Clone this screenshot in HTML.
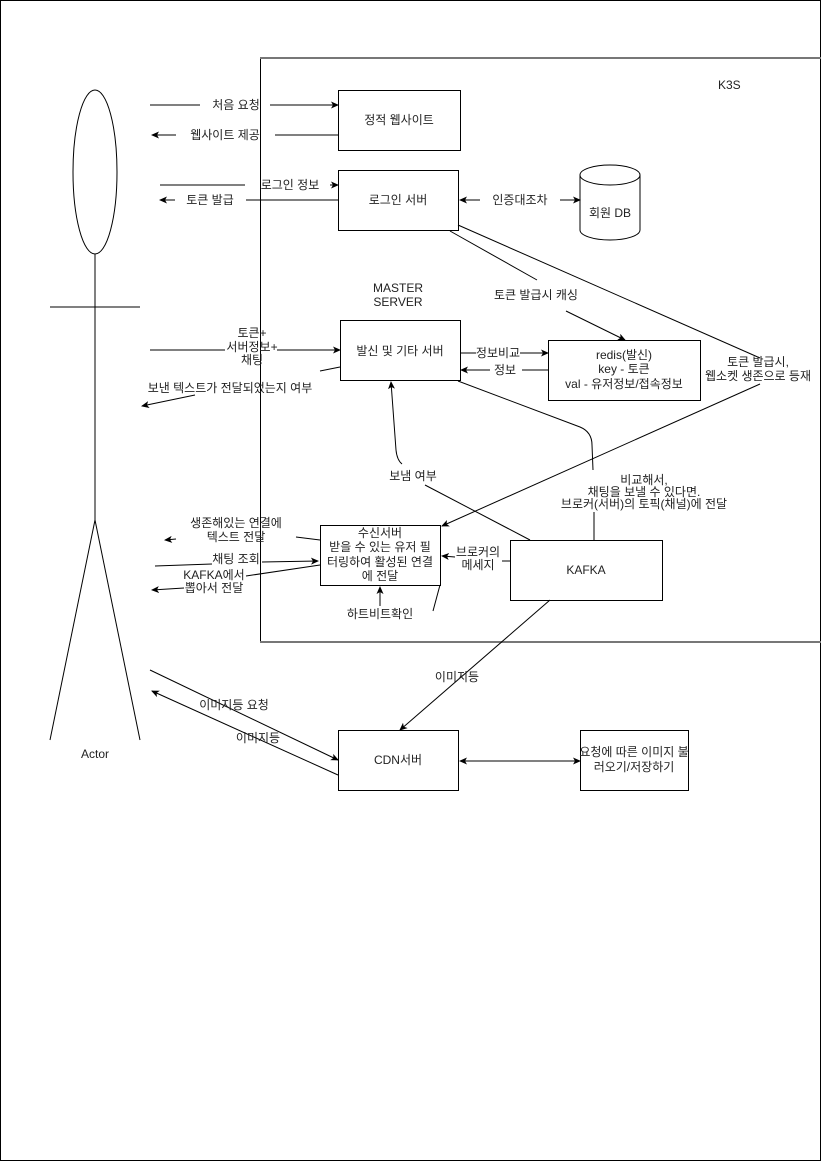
<!DOCTYPE html>
<html><head><meta charset="utf-8"><style>
html,body{margin:0;padding:0;background:#fff;}
svg{display:block;}
text{font-family:"Liberation Sans","Noto Sans CJK KR",sans-serif;font-size:12px;fill:#222;}
</style></head><body>
<svg width="821" height="1161" viewBox="0 0 821 1161" xmlns="http://www.w3.org/2000/svg">
<defs>
<marker id="a" markerWidth="8" markerHeight="8" refX="7" refY="4" orient="auto" markerUnits="userSpaceOnUse">
<path d="M0,0.5 L8,4 L0,7.5 L2,4 Z" fill="#000"/></marker>
<marker id="s" markerWidth="8" markerHeight="8" refX="1" refY="4" orient="auto" markerUnits="userSpaceOnUse">
<path d="M8,0.5 L0,4 L8,7.5 L6,4 Z" fill="#000"/></marker>
</defs>
<rect x="0.5" y="0.5" width="820" height="1160" fill="#fff" stroke="#000"/>
<line x1="260.5" y1="58" x2="260.5" y2="642" stroke="#000"/>
<line x1="260" y1="58" x2="821" y2="58" stroke="#777" stroke-width="2"/>
<line x1="260" y1="642" x2="821" y2="642" stroke="#777" stroke-width="2"/>
<text x="718" y="89">K3S</text>

<ellipse cx="95" cy="172" rx="22" ry="82" fill="#fff" stroke="#000"/>
<line x1="95" y1="254" x2="95" y2="520" stroke="#000"/>
<line x1="50" y1="307" x2="140" y2="307" stroke="#000"/>
<line x1="95" y1="520" x2="50" y2="740" stroke="#000"/>
<line x1="95" y1="520" x2="140" y2="740" stroke="#000"/>
<text x="95" y="758" text-anchor="middle">Actor</text>

<g fill="#fff" stroke="#000">
<rect x="338.5" y="90.5" width="122" height="60"/>
<rect x="338.5" y="170.5" width="120" height="60"/>
<rect x="340.5" y="320.5" width="120" height="60"/>
<rect x="548.5" y="340.5" width="152" height="60"/>
<rect x="320.5" y="525.5" width="120" height="60"/>
<rect x="510.5" y="540.5" width="152" height="60"/>
<rect x="338.5" y="730.5" width="120" height="60"/>
<rect x="580.5" y="730.5" width="108" height="60"/>
<path d="M580,175 A30,10 0 0 1 640,175 L640,230 A30,10 0 0 1 580,230 Z"/>
<path d="M580,175 A30,10 0 0 0 640,175"/>
</g>
<text x="399" y="124" text-anchor="middle">정적 웹사이트</text>
<text x="398" y="204" text-anchor="middle">로그인 서버</text>
<text x="610" y="217" text-anchor="middle">회원 DB</text>
<text x="398" y="292" text-anchor="middle">MASTER</text>
<text x="398" y="306" text-anchor="middle">SERVER</text>
<text x="400" y="355" text-anchor="middle">발신 및 기타 서버</text>
<text x="624" y="359" text-anchor="middle">redis(발신)</text>
<text x="624" y="373" text-anchor="middle">key - 토큰</text>
<text x="624" y="388" text-anchor="middle">val - 유저정보/접속정보</text>
<text x="380" y="537" text-anchor="middle">수신서버</text>
<text x="380" y="551" text-anchor="middle">받을 수 있는 유저 필</text>
<text x="380" y="566" text-anchor="middle">터링하여 활성된 연결</text>
<text x="380" y="580" text-anchor="middle">에 전달</text>
<text x="586" y="574" text-anchor="middle">KAFKA</text>
<text x="398" y="764" text-anchor="middle">CDN서버</text>
<text x="634" y="756" text-anchor="middle">요청에 따른 이미지 불</text>
<text x="634" y="771" text-anchor="middle">러오기/저장하기</text>

<g stroke="#000" fill="none">
<line x1="150" y1="105" x2="200" y2="105"/>
<line x1="270" y1="105" x2="338" y2="105" marker-end="url(#a)"/>
<line x1="338" y1="135" x2="275" y2="135"/>
<line x1="176" y1="135" x2="152" y2="135" marker-end="url(#a)"/>
<line x1="160" y1="185" x2="245" y2="185"/>
<line x1="330" y1="185" x2="338" y2="185" marker-end="url(#a)"/>
<line x1="338" y1="200" x2="246" y2="200"/>
<line x1="175" y1="200" x2="160" y2="200" marker-end="url(#a)"/>
<line x1="480" y1="200" x2="460" y2="200" marker-end="url(#a)"/>
<line x1="560" y1="200" x2="580" y2="200" marker-end="url(#a)"/>
<line x1="450" y1="231" x2="537" y2="280"/>
<line x1="566" y1="311" x2="625" y2="340" marker-end="url(#a)"/>
<line x1="458" y1="225" x2="760" y2="358"/>
<line x1="760" y1="384" x2="442" y2="526" marker-end="url(#a)"/>
<line x1="150" y1="350" x2="225" y2="350"/>
<line x1="277" y1="350" x2="340" y2="350" marker-end="url(#a)"/>
<line x1="340" y1="367" x2="320" y2="371"/>
<line x1="195" y1="395" x2="142" y2="406" marker-end="url(#a)"/>
<line x1="461" y1="353" x2="476" y2="353"/>
<line x1="520" y1="353" x2="548" y2="353" marker-end="url(#a)"/>
<line x1="548" y1="370" x2="522" y2="370"/>
<line x1="490" y1="370" x2="461" y2="370" marker-end="url(#a)"/>
<path d="M458,381 L580,427 Q592,432 592,445 L593,470"/>
<line x1="594" y1="512" x2="594" y2="540"/>
<line x1="530" y1="540" x2="425" y2="485"/>
<path d="M402,464 Q397,460 396,450 L391,382" marker-end="url(#a)"/>
<line x1="296" y1="537" x2="320" y2="540"/>
<line x1="176" y1="539" x2="165" y2="540" marker-end="url(#a)"/>
<line x1="155" y1="566" x2="212" y2="564"/>
<line x1="262" y1="562" x2="318" y2="561" marker-end="url(#a)"/>
<line x1="320" y1="565" x2="246" y2="576"/>
<line x1="184" y1="588" x2="152" y2="590" marker-end="url(#a)"/>
<line x1="380" y1="606" x2="380" y2="587" marker-end="url(#a)"/>
<line x1="440" y1="585" x2="433" y2="611"/>
<line x1="510" y1="561" x2="502" y2="561"/>
<line x1="455" y1="557" x2="442" y2="556" marker-end="url(#a)"/>
<line x1="550" y1="600" x2="400" y2="730" marker-end="url(#a)"/>
<line x1="150" y1="670" x2="338" y2="760" marker-end="url(#a)"/>
<line x1="338" y1="775" x2="152" y2="691" marker-end="url(#a)"/>
<line x1="460" y1="761" x2="580" y2="761" marker-start="url(#s)" marker-end="url(#a)"/>
</g>
<text x="236" y="109" text-anchor="middle">처음 요청</text>
<text x="225" y="139" text-anchor="middle">웹사이트 제공</text>
<text x="290" y="189" text-anchor="middle">로그인 정보</text>
<text x="210" y="204" text-anchor="middle">토큰 발급</text>
<text x="520" y="204" text-anchor="middle">인증대조차</text>
<text x="536" y="299" text-anchor="middle">토큰 발급시 캐싱</text>
<text x="758" y="366" text-anchor="middle">토큰 발급시,</text>
<text x="758" y="380" text-anchor="middle">웹소켓 생존으로 등재</text>
<text x="252" y="337" text-anchor="middle">토큰+</text>
<text x="252" y="351" text-anchor="middle">서버정보+</text>
<text x="252" y="364" text-anchor="middle">채팅</text>
<text x="230" y="392" text-anchor="middle">보낸 텍스트가 전달되었는지 여부</text>
<text x="498" y="357" text-anchor="middle" font-size="11">정보비교</text>
<text x="505" y="374" text-anchor="middle" font-size="11">정보</text>
<text x="644" y="484" text-anchor="middle" font-size="11">비교해서,</text>
<text x="644" y="496" text-anchor="middle" font-size="11">채팅을 보낼 수 있다면.</text>
<text x="644" y="508" text-anchor="middle" font-size="11">브로커(서버)의 토픽(채널)에 전달</text>
<text x="413" y="480" text-anchor="middle">보냄 여부</text>
<text x="236" y="527" text-anchor="middle">생존해있는 연결에</text>
<text x="236" y="541" text-anchor="middle">텍스트 전달</text>
<text x="236" y="563" text-anchor="middle">채팅 조회</text>
<text x="214" y="579" text-anchor="middle">KAFKA에서</text>
<text x="214" y="592" text-anchor="middle">뽑아서 전달</text>
<text x="380" y="618" text-anchor="middle">하트비트확인</text>
<text x="478" y="556" text-anchor="middle" font-size="11">브로커의</text>
<text x="478" y="569" text-anchor="middle" font-size="11">메세지</text>
<text x="457" y="681" text-anchor="middle" font-size="11">이미지등</text>
<text x="234" y="709" text-anchor="middle" font-size="11">이미지등 요청</text>
<text x="258" y="742" text-anchor="middle" font-size="11">이미지등</text>
</svg>
</body></html>
